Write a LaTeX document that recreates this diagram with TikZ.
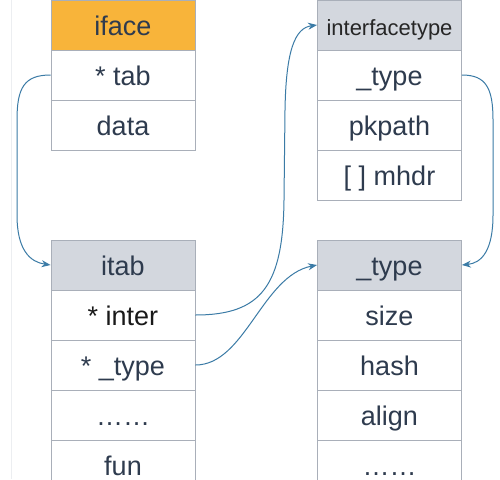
\documentclass[tikz,border=0pt]{standalone}
\usepackage{fontspec}
\setmainfont{Liberation Sans}
\usetikzlibrary{arrows.meta}
\definecolor{hdrorange}{HTML}{F8B43A}
\definecolor{hdrgray}{HTML}{D3D7DE}
\definecolor{cellborder}{HTML}{A9AFB9}
\definecolor{txtnavy}{HTML}{2E3B4E}
\definecolor{arrowblue}{HTML}{3B7BA6}
\definecolor{faintline}{HTML}{ECEEF1}
\tikzset{
  cell/.style={draw=cellborder, line width=0.9pt, fill=white, minimum width=144pt, minimum height=50pt,
    inner sep=0pt, text height=26pt, text depth=6pt, text=txtnavy, font=\fontsize{27}{27}\selectfont},
  hdr/.style={cell, fill=hdrgray},
  link/.style={draw=arrowblue, line width=1pt, -{Stealth[length=9pt,width=7pt]}},
}
\begin{document}
\begin{tikzpicture}[x=1pt,y=-1pt]
\useasboundingbox (0,0) rectangle (500,479);
\clip (0,0) rectangle (500,479);
\fill[white] (0,0) rectangle (500,479);
\draw[faintline, line width=1pt] (11,0) -- (11,479);
% top left: iface
\node[cell, fill=hdrorange] (iface) at (123,25) {iface};
\node[cell] (tab) at (123,75) {* tab};
\node[cell] (data) at (123,125) {data};
% top right: interfacetype
\node[hdr, text=black!85, font=\fontsize{22}{22}\selectfont] (ittype) at (389.5,25) {interfacetype};
\node[cell] (ittypety) at (389.5,75) {\_type};
\node[cell] (pkpath) at (389.5,125) {pkpath};
\node[cell] (mhdr) at (389.5,175) {[ ] mhdr};
% bottom left: itab
\node[hdr] (itab) at (123,265) {itab};
\node[cell, text=black!90] (inter) at (123,315) {* inter};
\node[cell] (itype) at (123,365) {* \_type};
\node[cell] (idots) at (123,415) {……};
\node[cell] (fun) at (123,465) {fun};
% bottom right: _type
\node[hdr] (type) at (389.5,265) {\_type};
\node[cell] (size) at (389.5,315) {size};
\node[cell] (hash) at (389.5,365) {hash};
\node[cell] (align) at (389.5,415) {align};
\node[cell] (tdots) at (389.5,465) {……};
% connectors
\draw[link] (tab.west) .. controls (24,75) and (17,88) .. (17,120)
  -- (17,215) .. controls (17,250) and (30,262) .. (itab.west);
\draw[link] (inter.east) .. controls (262,315) and (283,285) .. (284,200)
  -- (285,110) .. controls (286,50) and (295,28) .. (ittype.west);
\draw[link] (itype.east) .. controls (245,365) and (262,276) .. (type.west);
\draw[link] (ittypety.east) .. controls (486,75) and (493,88) .. (493,120)
  -- (493,215) .. controls (493,250) and (482,263) .. (type.east);
\end{tikzpicture}
\end{document}
